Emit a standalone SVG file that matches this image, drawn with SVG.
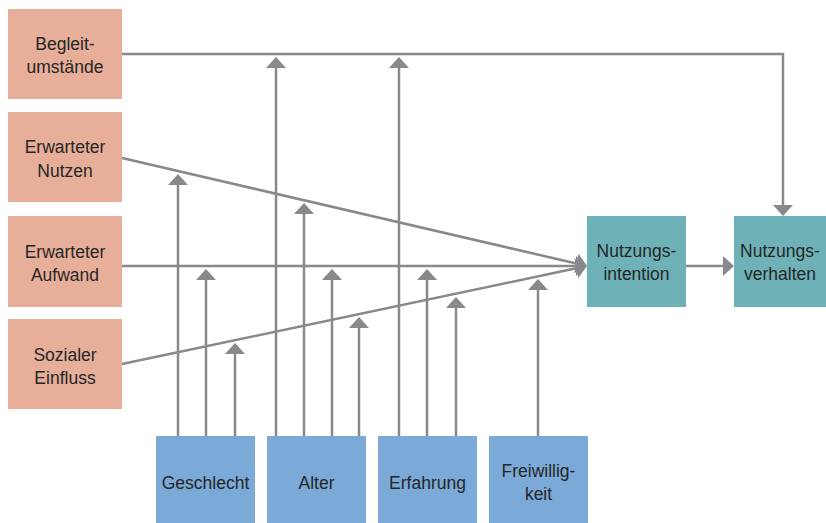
<svg xmlns="http://www.w3.org/2000/svg" width="826" height="523" viewBox="0 0 826 523">
<style>
.o{fill:#e7af99}
.t{fill:#6eb2b8}
.b{fill:#7baad8}
text{font-family:"Liberation Sans",Arial,sans-serif;font-size:17.5px;fill:#262626;text-anchor:middle}
.c line,.c path{stroke:#88898b;stroke-width:2.5;fill:none}
</style>
<defs>
<marker id="ah" viewBox="0 -10 11 20" markerWidth="11" markerHeight="20" refX="0" refY="0" markerUnits="userSpaceOnUse" orient="auto">
<path d="M0,-10 L11,0 L0,10 z" fill="#88898b"/>
</marker>
</defs>
<rect width="826" height="523" fill="#fff"/>
<g id="begleitumstaende"><rect class="o" x="8" y="9" width="114" height="90"/><text x="65" y="50">Begleit-</text><text x="65" y="73">umstände</text></g>
<g id="erwarteter-nutzen"><rect class="o" x="8" y="112" width="114" height="90"/><text x="65" y="153">Erwarteter</text><text x="65" y="177">Nutzen</text></g>
<g id="erwarteter-aufwand"><rect class="o" x="8" y="216" width="114" height="91"/><text x="65" y="258">Erwarteter</text><text x="65" y="281">Aufwand</text></g>
<g id="sozialer-einfluss"><rect class="o" x="8" y="319" width="114" height="90"/><text x="65" y="361">Sozialer</text><text x="65" y="384">Einfluss</text></g>
<g id="nutzungsintention"><rect class="t" x="587" y="216" width="99" height="91"/><text x="636.5" y="257">Nutzungs-</text><text x="636.5" y="280">intention</text></g>
<g id="nutzungsverhalten"><rect class="t" x="734" y="216" width="92" height="91"/><text x="780" y="257">Nutzungs-</text><text x="780" y="280">verhalten</text></g>
<g id="geschlecht"><rect class="b" x="156" y="436" width="99" height="87"/><text x="205.5" y="489">Geschlecht</text></g>
<g id="alter"><rect class="b" x="267" y="436" width="99" height="87"/><text x="316.5" y="489">Alter</text></g>
<g id="erfahrung"><rect class="b" x="378" y="436" width="99" height="87"/><text x="427.5" y="489">Erfahrung</text></g>
<g id="freiwilligkeit"><rect class="b" x="489" y="436" width="99" height="87"/><text x="538.5" y="477">Freiwillig-</text><text x="538.5" y="500">keit</text></g>
<g class="c" id="connectors">
<path d="M122,54 H783 V205" marker-end="url(#ah)"/>
<line x1="122" y1="158" x2="576.3" y2="263.5" marker-end="url(#ah)"/>
<line x1="122" y1="266" x2="576" y2="266" marker-end="url(#ah)"/>
<line x1="122" y1="364" x2="576.2" y2="268.3" marker-end="url(#ah)"/>
<line x1="686" y1="266" x2="723" y2="266" marker-end="url(#ah)"/>
<line x1="178" y1="436" x2="178" y2="185" marker-end="url(#ah)"/>
<line x1="206" y1="436" x2="206" y2="280" marker-end="url(#ah)"/>
<line x1="235" y1="436" x2="235" y2="354" marker-end="url(#ah)"/>
<line x1="276" y1="436" x2="276" y2="68" marker-end="url(#ah)"/>
<line x1="304" y1="436" x2="304" y2="214" marker-end="url(#ah)"/>
<line x1="332" y1="436" x2="332" y2="280" marker-end="url(#ah)"/>
<line x1="359" y1="436" x2="359" y2="328" marker-end="url(#ah)"/>
<line x1="399" y1="436" x2="399" y2="68" marker-end="url(#ah)"/>
<line x1="427" y1="436" x2="427" y2="280" marker-end="url(#ah)"/>
<line x1="456" y1="436" x2="456" y2="308" marker-end="url(#ah)"/>
<line x1="538" y1="436" x2="538" y2="290" marker-end="url(#ah)"/>
</g>
</svg>
